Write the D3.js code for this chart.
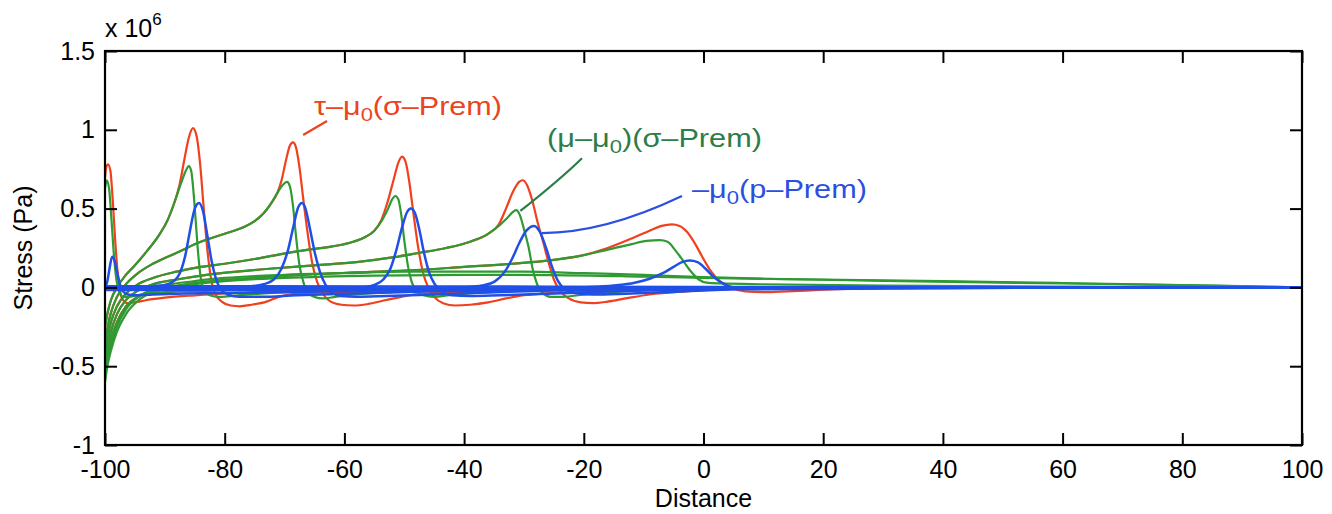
<!DOCTYPE html>
<html><head><meta charset="utf-8">
<script src="https://cdn.jsdelivr.net/npm/d3@7"></script>
<style>
body{margin:0;background:#fff}
svg{display:block}
text{font-family:"Liberation Sans",Arial,Helvetica,sans-serif}
</style>
</head><body>
<svg id="chart" width="1332" height="514"></svg>
<script>
// ---- tick values / labels ----
const xTicks = [-100,-80,-60,-40,-20,0,20,40,60,80,100];
const xTickLabels = ["-100","-80","-60","-40","-20","0","20","40","60","80","100"];
const yTicks = [-1,-0.5,0,0.5,1,1.5];
const yTickLabels = ["-1","-0.5","0","0.5","1","1.5"];

// ---- series (distance, stress in 1e6 Pa), one curve per snapshot ----
const redCurves = [
 [[-100,0.70],[-99.8,0.76],[-99.5,0.78],[-99.1,0.74],[-98.7,0.55],[-98.3,0.3],[-97.9,0.1],[-97.5,-0.02],[-97,-0.08],[-96.3,-0.1],[-95,-0.095],[-93,-0.08],[-90,-0.065],[-85,-0.05],[-78,-0.035],[-65,-0.02],[-45,-0.01],[-20,-0.005],[0,0],[100,0]],
 [[-100,-0.25],[-99.5,-0.15],[-99,-0.08],[-98,0.0],[-96.5,0.08],[-95,0.14],[-93,0.23],[-91,0.33],[-89.5,0.43],[-88.3,0.55],[-87.5,0.66],[-86.7,0.82],[-86,0.95],[-85.3,1.01],[-84.7,0.96],[-84.1,0.78],[-83.5,0.5],[-82.9,0.24],[-82.3,0.06],[-81.6,-0.04],[-80.5,-0.09],[-79,-0.115],[-77.5,-0.12],[-75.5,-0.11],[-73,-0.09],[-71,-0.06],[-68,-0.04],[-60,-0.03],[-45,-0.02],[-25,-0.01],[0,0],[100,0]],
 [[-100,-0.35],[-99.5,-0.24],[-99,-0.16],[-98,-0.06],[-96.5,0.02],[-94.5,0.09],[-92,0.15],[-88,0.22],[-84,0.29],[-80,0.34],[-77,0.38],[-75,0.42],[-73.5,0.47],[-72.3,0.53],[-71.2,0.6],[-70.5,0.68],[-69.8,0.8],[-69.1,0.9],[-68.6,0.92],[-68.1,0.89],[-67.5,0.76],[-66.9,0.57],[-66.2,0.36],[-65.4,0.16],[-64.6,0.04],[-63.6,-0.04],[-62.3,-0.09],[-60.5,-0.11],[-58.5,-0.115],[-56,-0.105],[-53,-0.08],[-50.5,-0.06],[-47,-0.04],[-40,-0.03],[-25,-0.015],[0,-0.003],[100,0]],
 [[-100,-0.42],[-99.5,-0.3],[-99,-0.22],[-98,-0.12],[-96.5,-0.04],[-94.5,0.02],[-92,0.06],[-88,0.1],[-84,0.13],[-80,0.15],[-75,0.18],[-70.8,0.21],[-66,0.24],[-62,0.26],[-58.5,0.29],[-56.5,0.32],[-55,0.36],[-53.8,0.43],[-52.8,0.54],[-51.8,0.68],[-51,0.79],[-50.4,0.83],[-49.8,0.8],[-49.2,0.68],[-48.5,0.48],[-47.7,0.26],[-46.9,0.1],[-46,0.0],[-45,-0.06],[-43.5,-0.1],[-41.5,-0.115],[-39,-0.11],[-36,-0.095],[-33,-0.07],[-30,-0.05],[-25,-0.035],[-15,-0.02],[0,-0.008],[20,0],[100,0]],
 [[-100,-0.48],[-99.5,-0.36],[-99,-0.28],[-98,-0.17],[-96.5,-0.08],[-94.5,-0.02],[-92,0.02],[-88,0.05],[-83,0.08],[-78,0.1],[-72,0.12],[-65,0.14],[-58,0.16],[-52,0.19],[-47.4,0.22],[-43,0.25],[-39,0.29],[-36,0.34],[-34.2,0.4],[-33,0.5],[-31.8,0.61],[-30.8,0.67],[-30.2,0.68],[-29.5,0.65],[-28.6,0.55],[-27.7,0.41],[-26.8,0.29],[-25.9,0.16],[-25,0.05],[-24,-0.02],[-22.5,-0.07],[-20.5,-0.095],[-18.5,-0.1],[-16,-0.09],[-13,-0.07],[-9,-0.045],[-3,-0.025],[5,-0.01],[20,0],[100,0]],
 [[-100,-0.53],[-99.5,-0.41],[-99,-0.33],[-98,-0.22],[-96.5,-0.12],[-94.5,-0.06],[-92,-0.02],[-88,0.01],[-82,0.04],[-75,0.06],[-67,0.08],[-58,0.095],[-48,0.11],[-40,0.13],[-32,0.15],[-25,0.175],[-20.6,0.2],[-16,0.25],[-12,0.31],[-9,0.36],[-7,0.39],[-5.3,0.40],[-4,0.39],[-2.7,0.35],[-1.3,0.27],[0,0.18],[1.3,0.1],[2.7,0.04],[4.5,0.0],[7,-0.025],[10,-0.03],[14,-0.025],[20,-0.015],[30,-0.005],[50,0],[100,0]]
];
const greenCurves = [
 [[-100,0.63],[-99.7,0.68],[-99.3,0.62],[-98.9,0.42],[-98.5,0.2],[-98.1,0.05],[-97.6,-0.03],[-97,-0.06],[-96,-0.06],[-94,-0.045],[-90,-0.03],[-82,-0.02],[-70,-0.01],[-50,0],[100,0]],
 [[-100,-0.25],[-99.5,-0.15],[-99,-0.08],[-98,0.0],[-96.5,0.08],[-95,0.14],[-93,0.23],[-91,0.33],[-89.5,0.43],[-88.3,0.55],[-87.3,0.66],[-86.5,0.74],[-86,0.77],[-85.6,0.74],[-85.2,0.6],[-84.8,0.4],[-84.4,0.2],[-84,0.06],[-83.5,-0.02],[-82.5,-0.05],[-81,-0.06],[-79,-0.055],[-76,-0.045],[-70,-0.03],[-60,-0.015],[-45,-0.005],[-20,0],[100,0]],
 [[-100,-0.35],[-99.5,-0.24],[-99,-0.16],[-98,-0.06],[-96.5,0.02],[-94.5,0.09],[-92,0.15],[-88,0.22],[-84,0.29],[-80,0.34],[-77,0.38],[-75,0.42],[-73.5,0.47],[-72.3,0.53],[-71.2,0.6],[-70.3,0.65],[-69.6,0.67],[-69.1,0.64],[-68.6,0.52],[-68.1,0.33],[-67.5,0.14],[-66.9,0.04],[-66.2,-0.03],[-65,-0.06],[-63.6,-0.07],[-61.5,-0.06],[-58,-0.045],[-52,-0.03],[-42,-0.015],[-25,-0.005],[0,0],[100,0]],
 [[-100,-0.42],[-99.5,-0.3],[-99,-0.22],[-98,-0.12],[-96.5,-0.04],[-94.5,0.02],[-92,0.06],[-88,0.1],[-84,0.13],[-80,0.15],[-75,0.18],[-70.8,0.21],[-66,0.24],[-62,0.26],[-58.5,0.29],[-56.5,0.32],[-55,0.36],[-53.8,0.42],[-52.7,0.5],[-52,0.56],[-51.5,0.58],[-51,0.56],[-50.5,0.46],[-50,0.3],[-49.4,0.14],[-48.8,0.04],[-48,-0.02],[-46.8,-0.05],[-45,-0.06],[-42.5,-0.05],[-38,-0.035],[-30,-0.02],[-15,-0.005],[5,0],[100,0]],
 [[-100,-0.48],[-99.5,-0.36],[-99,-0.28],[-98,-0.17],[-96.5,-0.08],[-94.5,-0.02],[-92,0.02],[-88,0.05],[-83,0.08],[-78,0.1],[-72,0.12],[-65,0.14],[-58,0.16],[-52,0.19],[-47.4,0.22],[-43,0.25],[-39,0.29],[-36,0.34],[-34.2,0.39],[-32.8,0.44],[-31.8,0.48],[-31.3,0.49],[-30.7,0.46],[-30,0.37],[-29.2,0.25],[-28.5,0.11],[-27.8,0.02],[-27,-0.03],[-25.5,-0.06],[-23.5,-0.06],[-20,-0.045],[-15,-0.03],[-8,-0.015],[0,-0.005],[100,0]],
 [[-100,-0.53],[-99.5,-0.41],[-99,-0.33],[-98,-0.22],[-96.5,-0.12],[-94.5,-0.06],[-92,-0.02],[-88,0.01],[-82,0.04],[-75,0.06],[-67,0.08],[-58,0.095],[-48,0.11],[-40,0.13],[-32,0.15],[-25,0.175],[-20.6,0.2],[-16,0.24],[-12,0.275],[-9.5,0.295],[-7.3,0.30],[-6,0.29],[-4.8,0.24],[-3.8,0.19],[-2.3,0.11],[-0.8,0.05],[0.5,0.03],[3,0.025],[10,0.02],[30,0.012],[60,0.005],[100,0]],
 [[-100,-0.57],[-99.5,-0.45],[-99,-0.37],[-98,-0.25],[-96.5,-0.14],[-94,-0.05],[-90,0.01],[-85,0.04],[-80,0.06],[-70,0.08],[-60,0.09],[-50,0.1],[-40,0.1],[-30,0.1],[-20,0.09],[-10,0.08],[0,0.065],[10,0.055],[30,0.042],[50,0.03],[70,0.02],[90,0.008],[100,0]],
 [[-100,-0.6],[-99.5,-0.48],[-99,-0.4],[-98,-0.28],[-96.5,-0.17],[-94,-0.07],[-90,-0.01],[-85,0.02],[-80,0.04],[-70,0.06],[-55,0.075],[-40,0.08],[-25,0.078],[-10,0.068],[0,0.06],[20,0.05],[40,0.04],[60,0.028],[80,0.015],[100,0]]
];
const blueCurves = [
 [[-100,0.0],[-99.6,0.04],[-99.2,0.13],[-98.8,0.195],[-98.4,0.17],[-98,0.1],[-97.5,0.02],[-97,-0.025],[-96.2,-0.045],[-95,-0.05],[-92,-0.045],[-88,-0.04],[-80,-0.035],[-70,-0.03],[-55,-0.02],[-35,-0.01],[-10,-0.005],[10,0],[100,0]],
 [[-100,0.005],[-95,0.005],[-92,0.008],[-90,0.015],[-88.5,0.04],[-87.5,0.09],[-86.6,0.2],[-85.8,0.36],[-85,0.5],[-84.3,0.535],[-83.6,0.48],[-82.9,0.33],[-82.2,0.17],[-81.5,0.06],[-80.7,-0.01],[-79.5,-0.045],[-77.5,-0.06],[-74,-0.06],[-68,-0.05],[-60,-0.04],[-45,-0.025],[-25,-0.012],[0,-0.004],[30,0],[100,0]],
 [[-100,0.0],[-80,0.0],[-76,0.006],[-73.5,0.02],[-71.8,0.05],[-70.5,0.12],[-69.4,0.24],[-68.5,0.39],[-67.7,0.51],[-67.1,0.535],[-66.5,0.5],[-65.8,0.38],[-65,0.23],[-64.1,0.1],[-63.2,0.02],[-62.2,-0.03],[-60.5,-0.055],[-58,-0.06],[-53,-0.055],[-45,-0.045],[-35,-0.03],[-20,-0.015],[0,-0.005],[30,0],[100,0]],
 [[-100,-0.005],[-60,-0.005],[-57,0.0],[-55,0.015],[-53.5,0.05],[-52.3,0.12],[-51.3,0.24],[-50.3,0.39],[-49.5,0.48],[-48.9,0.5],[-48.2,0.47],[-47.5,0.37],[-46.7,0.22],[-45.8,0.09],[-44.9,0.02],[-43.8,-0.025],[-42,-0.05],[-39,-0.055],[-34,-0.05],[-26,-0.04],[-15,-0.025],[0,-0.01],[20,-0.003],[100,0]],
 [[-100,-0.01],[-45,-0.01],[-40,0.0],[-37,0.012],[-34.8,0.04],[-33.2,0.1],[-32,0.18],[-30.8,0.28],[-29.6,0.36],[-28.3,0.39],[-27.3,0.35],[-26.3,0.25],[-25.3,0.13],[-24.3,0.04],[-23.2,-0.01],[-21.5,-0.035],[-18.5,-0.045],[-13,-0.04],[-6,-0.03],[3,-0.015],[15,-0.005],[30,0],[100,0]],
 [[-100,-0.012],[-30,-0.01],[-20,0.0],[-15,0.012],[-11.5,0.03],[-9,0.055],[-6.8,0.09],[-5,0.13],[-3.6,0.16],[-2.3,0.17],[-1,0.16],[0.3,0.12],[1.6,0.07],[3,0.03],[4.5,0.005],[6.5,-0.008],[10,-0.012],[20,-0.01],[40,-0.005],[70,0],[100,0]],
 [[-100,0.008],[-50,0.006],[0,0.003],[100,0]],
 [[-100,-0.016],[-50,-0.014],[0,-0.006],[100,0]]
];

// ---- annotation labels (text pieces: [string, isSubscript]) ----
const redLabel = [["τ–μ",false],["0",true],["(σ–Prem)",false]];
const greenLabel = [["(μ–μ",false],["0",true],[")(σ–Prem)",false]];
const blueLabel = [["–μ",false],["0",true],["(p–Prem)",false]];

// ---- layout ----
const W = 1332, H = 514;
const L = 105, R = 1302, T = 51, B = 445;
const svg = d3.select("#chart");
svg.append("rect").attr("width",W).attr("height",H).attr("fill","#fff");

const x = d3.scaleLinear().domain([-100,100]).range([L,R]);
const y = d3.scaleLinear().domain([-1,1.5]).range([B,T]);

const COL_R = "#f0401e", COL_G = "#2f9a32", COL_B = "#1f4fe6";

svg.append("clipPath").attr("id","clip").append("rect")
  .attr("x",L).attr("y",T).attr("width",R-L).attr("height",B-T);

const line = d3.line().x(d=>x(d[0])).y(d=>y(d[1])).curve(d3.curveMonotoneX);
const plot = svg.append("g").attr("clip-path","url(#clip)");
function drawSet(curves, color, w){
  plot.append("g").selectAll("path").data(curves).join("path")
    .attr("d", line).attr("fill","none").attr("stroke",color)
    .attr("stroke-width",w).attr("stroke-linejoin","round").attr("stroke-linecap","round");
}
drawSet(redCurves, COL_R, 2.2);
drawSet(greenCurves, COL_G, 2.2);
drawSet(blueCurves, COL_B, 2.5);

// ---- axes (ticks inside, MATLAB box) ----
const fs = 25;
const xb = svg.append("g").attr("transform",`translate(0,${B})`)
  .call(d3.axisBottom(x).tickValues(xTicks).tickFormat((d,i)=>xTickLabels[i]).tickSizeInner(-12).tickSizeOuter(0).tickPadding(15));
const xt = svg.append("g").attr("transform",`translate(0,${T})`)
  .call(d3.axisTop(x).tickValues(xTicks).tickFormat("").tickSizeInner(-12).tickSizeOuter(0));
const yl = svg.append("g").attr("transform",`translate(${L},0)`)
  .call(d3.axisLeft(y).tickValues(yTicks).tickFormat((d,i)=>yTickLabels[i]).tickSizeInner(-12).tickSizeOuter(0).tickPadding(10));
const yr = svg.append("g").attr("transform",`translate(${R},0)`)
  .call(d3.axisRight(y).tickValues(yTicks).tickFormat("").tickSizeInner(-12).tickSizeOuter(0));
[xb,xt,yl,yr].forEach(g=>{
  g.select(".domain").remove();
  g.selectAll(".tick line").attr("stroke","#000").attr("stroke-width",2);
  g.selectAll("text").attr("font-size",fs).attr("fill","#000")
    .attr("font-family",'"Liberation Sans",Arial,sans-serif');
});
svg.append("rect").attr("x",L).attr("y",T).attr("width",R-L).attr("height",B-T)
  .attr("fill","none").attr("stroke","#000").attr("stroke-width",2.2);

// multiplier
const mult = svg.append("text").attr("x",105).attr("y",37).attr("font-size",25).attr("fill","#000");
mult.append("tspan").text("x 10");
mult.append("tspan").attr("font-size",17).attr("dy",-12).text("6");

// axis titles
svg.append("text").attr("x",(L+R)/2).attr("y",507).attr("text-anchor","middle")
  .attr("font-size",fs).attr("fill","#000").text("Distance");
svg.append("text").attr("transform",`translate(32,${(T+B)/2}) rotate(-90)`)
  .attr("text-anchor","middle").attr("font-size",fs).attr("fill","#000").text("Stress (Pa)");

// annotations: stretched horizontally to match the reference label widths
function label(parts, px, py, targetW, color){
  const g = svg.append("g");
  const t = g.append("text").attr("x",0).attr("y",0).attr("font-size",25).attr("fill",color);
  parts.forEach(([s,sub],i)=>{
    const ts = t.append("tspan").text(s);
    if(sub){ ts.attr("font-size",18).attr("dy",6); }
    else if(i>0 && parts[i-1][1]){ ts.attr("dy",-6); }
  });
  const w = t.node().getComputedTextLength();
  g.attr("transform",`translate(${px},${py}) scale(${targetW/w},1)`);
  return g;
}
label(redLabel, 314, 115, 188, "#ea4420");
label(greenLabel, 547, 147, 215, "#2c7d48");
label(blueLabel, 692, 198, 175, "#2b4fe0");

// leader lines (data coordinates)
const leaderRed = [[-66.9,0.967],[-62.9,1.056]];
const leaderGreen = [[-30.6,0.485],[-23.8,0.69],[-20.3,0.82]];
const leaderBlue = [[-27.0,0.345],[-16.6,0.345],[-3.6,0.58]];
svg.append("path").attr("d",`M${x(leaderRed[0][0])},${y(leaderRed[0][1])}L${x(leaderRed[1][0])},${y(leaderRed[1][1])}`)
  .attr("stroke","#ea4420").attr("stroke-width",2.2).attr("fill","none");
svg.append("path").attr("d",`M${x(leaderGreen[0][0])},${y(leaderGreen[0][1])}Q${x(leaderGreen[1][0])},${y(leaderGreen[1][1])} ${x(leaderGreen[2][0])},${y(leaderGreen[2][1])}`)
  .attr("stroke","#2c7d48").attr("stroke-width",2.2).attr("fill","none");
svg.append("path").attr("d",`M${x(leaderBlue[0][0])},${y(leaderBlue[0][1])}Q${x(leaderBlue[1][0])},${y(leaderBlue[1][1])} ${x(leaderBlue[2][0])},${y(leaderBlue[2][1])}`)
  .attr("stroke","#2b4fe0").attr("stroke-width",2.2).attr("fill","none");
</script>
</body></html>
